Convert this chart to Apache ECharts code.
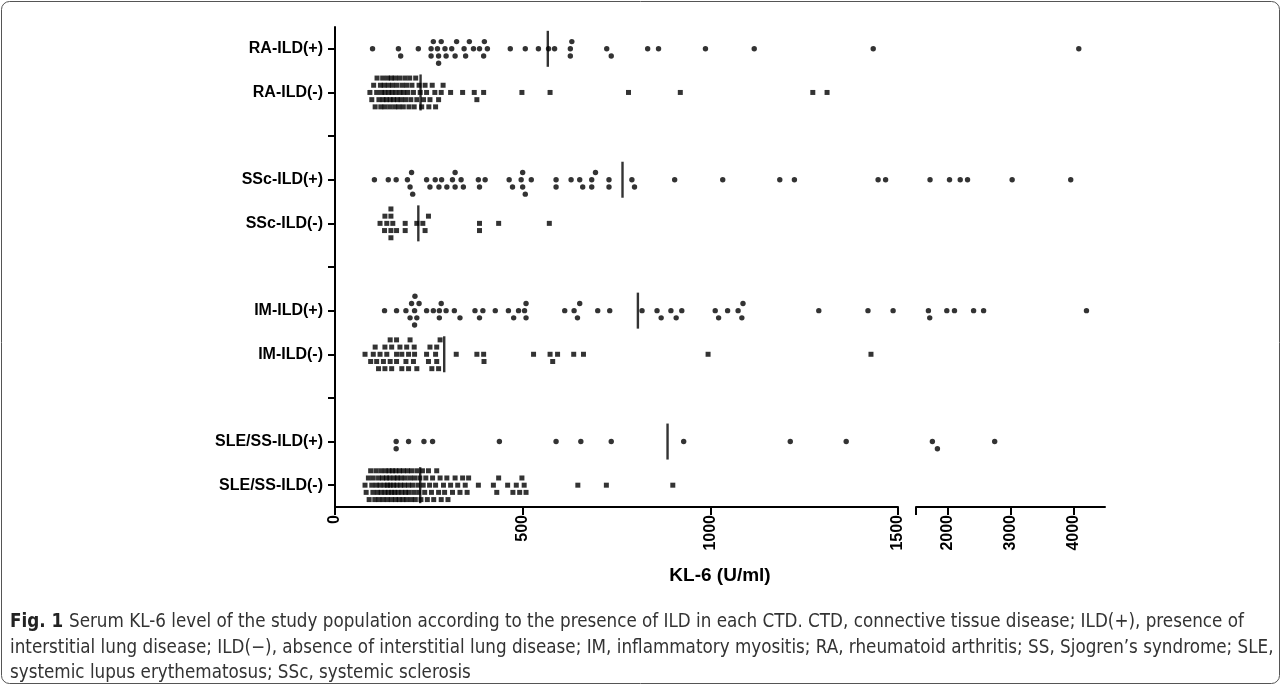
<!DOCTYPE html>
<html>
<head>
<meta charset="utf-8">
<script src="https://cdn.jsdelivr.net/npm/echarts@6/dist/echarts.min.js"></script>
<style>
  html, body { margin: 0; padding: 0; background: #fff; }
  #chart { width: 1281px; height: 685px; }
</style>
</head>
<body>
<div id="chart"></div>
<script>
// serum KL-6 per CTD group, dot plot with broken x axis
const rowLabels = ['RA-ILD(+)', 'RA-ILD(-)', '', 'SSc-ILD(+)', 'SSc-ILD(-)', '', 'IM-ILD(+)', 'IM-ILD(-)', '', 'SLE/SS-ILD(+)', 'SLE/SS-ILD(-)'];
const leftTicks = [0, 500, 1000, 1500];
const rightTicks = [2000, 3000, 4000];

const raPos = [100, 169, 175, 222, 256, 256, 262, 273, 276, 276, 283, 293, 296, 311, 320, 324, 344, 348, 358, 369, 385, 396, 398, 406,
  467, 507, 542, 569, 585, 627, 627, 631, 724, 736, 833, 862, 987, 1117, 1434, 4084];
const raNeg = [93, 98, 103, 107, 111, 112, 117, 121, 122, 124, 127, 128, 131, 133, 133, 137, 140, 142, 143, 146, 147, 150, 152, 153,
  156, 159, 160, 162, 165, 166, 170, 172, 173, 176, 179, 182, 183, 186, 188, 191, 194, 197, 199, 202, 205, 209, 211, 215,
  218, 224, 227, 231, 236, 240, 244, 250, 253, 259, 266, 268, 276, 283, 288,
  308, 340, 371, 378, 396, 498, 573, 782, 920, 1273, 1311];
const sscPos = [105, 142, 163, 193, 200, 204, 207, 244, 253, 267, 277, 284, 298, 313, 320, 320, 336, 342, 382, 385, 400,
  464, 473, 496, 500, 500, 507, 523, 589, 589, 629, 652, 660, 684, 684, 694, 730, 730, 791, 798, 905,
  1033, 1185, 1224, 1447, 1467, 1723, 2032, 2202, 2318, 3026, 3956];
const sscNeg = [120, 132, 133, 138, 149, 149, 149, 149, 154, 164, 187, 187, 218, 234, 240, 249, 385, 385, 436, 571];
const imPos = [132, 164, 189, 200, 204, 212, 212, 213, 218, 224, 244, 262, 278, 278, 283, 296, 318, 333, 373, 385, 394, 427,
  462, 476, 489, 505, 509, 509, 612, 637, 646, 652, 700, 732, 818, 858, 869, 895, 909, 924,
  1013, 1022, 1046, 1074, 1084, 1087, 1289, 1420, 1487, 1697, 1718, 1989, 2111, 2414, 2573, 4206];
const imNeg = [80, 95, 102, 107, 111, 116, 120, 129, 133, 133, 138, 147, 147, 151, 151, 164, 164, 164, 173, 178, 178, 189,
  191, 196, 196, 200, 209, 211, 212, 218, 244, 249, 253, 258, 268, 271, 271, 276, 280,
  323, 378, 396, 397, 529, 573, 580, 593, 636, 662, 994, 1428];
const slePos = [163, 163, 196, 237, 260, 438, 589, 655, 736, 929, 1213, 1362, 1760, 1840, 2749];
const sleNeg = [80, 83, 89, 91, 95, 98, 101, 102, 106, 109, 110, 113, 116, 117, 120, 122, 123, 127, 128, 131, 133, 134,
  137, 139, 140, 142, 144, 146, 147, 150, 151, 153, 156, 157, 159, 161, 162, 165, 166, 168, 171, 172, 175, 176,
  178, 181, 182, 185, 187, 188, 191, 193, 196, 197, 200, 203, 204, 207, 210, 212, 214, 218, 221, 223, 226, 229,
  233, 235, 239, 242, 246, 249, 252, 257, 260, 263, 268, 271, 276, 280, 283, 289, 292, 298, 301, 308, 313, 320,
  327, 333, 340, 347, 352, 356,
  382, 422, 431, 436, 460, 474, 483, 492, 498, 504, 509, 647, 723, 900];

const groupValues = [raPos, raNeg, sscPos, sscNeg, imPos, imNeg, slePos, sleNeg];
const groupRows = [0, 1, 3, 4, 6, 7, 9, 10];
const groupMeans = [567, 228, 766, 222, 807, 291, 886, 227];

const breakAt = 1500;
const labelFont = 'Liberation Sans';
const capFamily = "'Liberation Sans Narrow', 'DejaVu Sans Condensed', sans-serif";

let chart = echarts.init(document.getElementById('chart'), null, { renderer: 'canvas' });

// simple beeswarm: 5 levels max, overlap when full
const rowGap = 7.2, minDx = 6;
const levels = [0, 1, -1, 2, -2];
const swarm = (pxList) => {
  const items = pxList.map((px, idx) => ({ px, idx })).sort((a, b) => a.px - b.px);
  const placed = {};
  levels.forEach(l => placed[l] = []);
  const res = new Array(pxList.length);
  items.forEach(p => {
    let best = 0, bestGap = -1;
    for (const l of levels) {
      const arr = placed[l];
      let gap = Infinity;
      for (let k = arr.length - 1; k >= 0; k--) {
        const d = Math.abs(p.px - arr[k]);
        if (d < gap) gap = d;
        if (p.px - arr[k] > minDx * 4) break;
      }
      if (gap >= minDx) { best = l; bestGap = gap; break; }
      if (gap > bestGap + 0.5) { bestGap = gap; best = l; }
    }
    placed[best].push(p.px);
    res[p.idx] = best * rowGap;
  });
  return res;
};

const buildSeries = (offsets) => {
  let series = [];
  groupValues.forEach((vals, g) => {
    const row = groupRows[g];
    const sym = rowLabels[row].indexOf('(+)') >= 0 ? 'circle' : 'rect';
    let left = [], right = [];
    vals.forEach((v, i) => {
      const item = { value: [v, row], symbolOffset: [0, offsets ? offsets[g][i] : 0] };
      (v <= breakAt ? left : right).push(item);
    });
    const base = { type: 'scatter', symbol: sym, symbolSize: sym === 'circle' ? 5.4 : 5, itemStyle: { color: '#000' }, silent: true };
    series.push(Object.assign({}, base, { xAxisIndex: 0, yAxisIndex: 0, data: left }));
    series.push(Object.assign({}, base, { xAxisIndex: 1, yAxisIndex: 1, data: right }));
  });
  // mean lines
  series.push({
    type: 'scatter', xAxisIndex: 0, yAxisIndex: 0, symbol: 'rect', symbolSize: [2.4, 36], z: 5, silent: true,
    itemStyle: { color: '#000' },
    data: groupMeans.map((m, g) => [m, groupRows[g]])
  });
  return series;
};

// fit caption font to the widest line
const capLines = [
  'Serum KL-6 level of the study population according to the presence of ILD in each CTD. CTD, connective tissue disease; ILD(+), presence of',
  'interstitial lung disease; ILD(\u2212), absence of interstitial lung disease; IM, inflammatory myositis; RA, rheumatoid arthritis; SS, Sjogren\u2019s syndrome; SLE,',
  'systemic lupus erythematosus; SSc, systemic sclerosis'
];
const ctx = document.createElement('canvas').getContext('2d');
ctx.font = 'bold 20px ' + capFamily;
const wFig = ctx.measureText('Fig. 1 ').width;
ctx.font = '20px ' + capFamily;
const w1 = wFig + ctx.measureText(capLines[0]).width;
const w2 = ctx.measureText(capLines[1]).width;
const capSize = 20 * 1264 / Math.max(w1, w2);
const figW = wFig * capSize / 20;
const capFont = capSize.toFixed(2) + 'px ' + capFamily;

const tickLabel = (v) => String(v);

const option = {
  animation: false,
  backgroundColor: '#fff',
  grid: [
    { left: 335, top: 27, width: 563, height: 480 },
    { left: 916, top: 27, width: 189, height: 480 }
  ],
  xAxis: [
    {
      type: 'value', gridIndex: 0, min: 0, max: 1500, interval: 500,
      axisLine: { show: true, onZero: false, lineStyle: { color: '#000', width: 2 } },
      axisTick: { show: true, length: 8, lineStyle: { color: '#000', width: 2 }, customValues: leftTicks },
      axisLabel: { rotate: 90, margin: 8, color: '#000', fontWeight: 'bold', fontSize: 16, fontFamily: labelFont, customValues: leftTicks, formatter: tickLabel },
      splitLine: { show: false }
    },
    {
      type: 'value', gridIndex: 1, min: 1500, max: 4500,
      axisLine: { show: true, onZero: false, lineStyle: { color: '#000', width: 2 } },
      axisTick: { show: true, length: 8, lineStyle: { color: '#000', width: 2 }, customValues: [1500].concat(rightTicks) },
      axisLabel: { rotate: 90, margin: 8, color: '#000', fontWeight: 'bold', fontSize: 16, fontFamily: labelFont, customValues: rightTicks, formatter: tickLabel },
      splitLine: { show: false }
    }
  ],
  yAxis: [
    {
      type: 'category', gridIndex: 0, data: rowLabels, inverse: true,
      axisLine: { show: true, lineStyle: { color: '#000', width: 2 } },
      axisTick: { show: true, alignWithLabel: true, interval: 0, length: 7, lineStyle: { color: '#000', width: 2 } },
      axisLabel: { margin: 12, color: '#000', fontWeight: 'bold', fontSize: 16, fontFamily: labelFont, interval: 0 },
      splitLine: { show: false }
    },
    { type: 'category', gridIndex: 1, data: rowLabels, inverse: true, show: false }
  ],
  graphic: [
    {
      type: 'text', x: 720, y: 576,
      style: { text: 'KL-6 (U/ml)', font: 'bold 19px "Liberation Sans"', fill: '#000', align: 'center', verticalAlign: 'middle' }
    },
    {
      type: 'rect', shape: { x: 1.5, y: 1.5, width: 1278, height: 682, r: 8 },
      style: { fill: 'none', stroke: '#555', lineWidth: 1 }
    },
    {
      type: 'text', x: 10, y: 622,
      style: { text: 'Fig. 1', font: 'bold ' + capFont, fill: '#222', verticalAlign: 'middle' }
    },
    {
      type: 'text', x: 10 + figW, y: 622,
      style: { text: capLines[0], font: capFont, fill: '#333', verticalAlign: 'middle' }
    },
    {
      type: 'text', x: 10, y: 648,
      style: { text: capLines[1], font: capFont, fill: '#333', verticalAlign: 'middle' }
    },
    {
      type: 'text', x: 10, y: 673,
      style: { text: capLines[2], font: capFont, fill: '#333', verticalAlign: 'middle' }
    }
  ],
  series: buildSeries(null)
};

chart.setOption(option);

// second pass: stack the dots with their pixel positions
const offsets = groupValues.map((vals, g) => {
  const px = vals.map(v => chart.convertToPixel({ gridIndex: v <= breakAt ? 0 : 1 }, [v, groupRows[g]])[0]);
  return swarm(px);
});
chart.setOption({ series: buildSeries(offsets) });

window.addEventListener('resize', () => chart && chart.resize());
</script>
</body>
</html>
